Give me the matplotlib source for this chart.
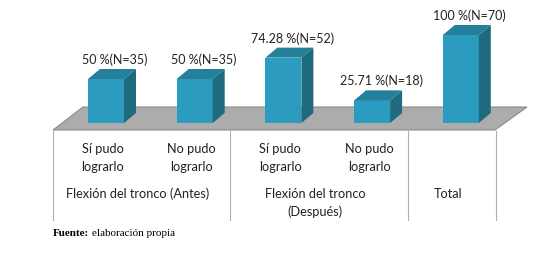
import matplotlib
matplotlib.use("Agg")
import matplotlib.pyplot as plt
from matplotlib.patches import Polygon

# datos
porcentajes = [50, 50, 74.28, 25.71, 100]
n_casos = [35, 35, 52, 18, 70]
categorias = ["Sí pudo\nlograrlo", "No pudo\nlograrlo",
              "Sí pudo\nlograrlo", "No pudo\nlograrlo", ""]
grupos = ["Flexión del tronco (Antes)", "Flexión del tronco\n(Después)", "Total"]

# colores
c_frente = "#2b9cc0"
c_lado = "#1e6b80"
c_techo = "#247f9a"
c_piso = "#acacac"
c_borde_piso = "#8a8a8a"

W, H = 542, 261
PX_POR_PCT = 0.88   # pixeles por punto porcentual
FILA_BASE = 123     # fila (px desde arriba) de la base de las barras


def y_de_fila(fila):
    # convierte una fila en pixeles a unidades del eje y (porcentaje)
    return (FILA_BASE - fila) / PX_POR_PCT


fig = plt.figure(figsize=(W / 100, H / 100), dpi=100)
ax = fig.add_axes([0, 0, 1, 1])
ax.set_xlim(0, W)
ax.set_ylim(y_de_fila(H), y_de_fila(0))
ax.axis("off")

fuente = ["Lato", "DejaVu Sans"]

# piso gris
piso = Polygon([(53, y_de_fila(130)), (495, y_de_fila(130)),
                (527, y_de_fila(107)), (83, y_de_fila(107))],
               closed=True, facecolor=c_piso, edgecolor=c_borde_piso, lw=0.8)
ax.add_patch(piso)

# barras 3D
x0, paso, ancho = 88, 88.7, 36
dx, dy = 12, 10 / PX_POR_PCT
for i, (p, n) in enumerate(zip(porcentajes, n_casos)):
    xl = x0 + i * paso
    xr = xl + ancho
    ax.add_patch(Polygon([(xl, 0), (xr, 0), (xr, p), (xl, p)],
                         facecolor=c_frente, edgecolor="none"))
    ax.add_patch(Polygon([(xr, 0), (xr + dx, dy), (xr + dx, p + dy), (xr, p)],
                         facecolor=c_lado, edgecolor="none"))
    ax.add_patch(Polygon([(xl, p), (xr, p), (xr + dx, p + dy), (xl + dx, p + dy)],
                         facecolor=c_techo, edgecolor="none"))
    etiqueta = f"{p:g} %(N={n})"
    ax.text(xl + ancho / 2 + 9, p + dy + 3 / PX_POR_PCT, etiqueta,
            ha="center", va="bottom", fontsize=9, family=fuente, color="#222222")
    if categorias[i]:
        ax.text(xl + ancho / 2 - 3, y_de_fila(158), categorias[i],
                ha="center", va="center", fontsize=9.2, family=fuente,
                color="#222222", linespacing=1.6)

# líneas de separación de grupos
lineas_x = [53, 230, 408, 496]
for xv in lineas_x:
    ax.plot([xv, xv], [y_de_fila(131), y_de_fila(220)], color="#b0b0b0", lw=0.8)

# etiquetas de grupo
for j, g in enumerate(grupos):
    xc = (lineas_x[j] + lineas_x[j + 1]) / 2 - 4
    fila = 203 if "\n" in g else 194
    ax.text(xc, y_de_fila(fila), g, ha="center", va="center", fontsize=9.2,
            family=fuente, color="#222222", linespacing=1.55)

# fuente
ax.text(53, y_de_fila(234), "Fuente:", ha="left", va="center", fontsize=8,
        family="Liberation Serif", weight="bold")
ax.text(92, y_de_fila(234), "elaboración propia", ha="left", va="center",
        fontsize=8, family="Liberation Serif")

fig.savefig("out.png", dpi=100)
